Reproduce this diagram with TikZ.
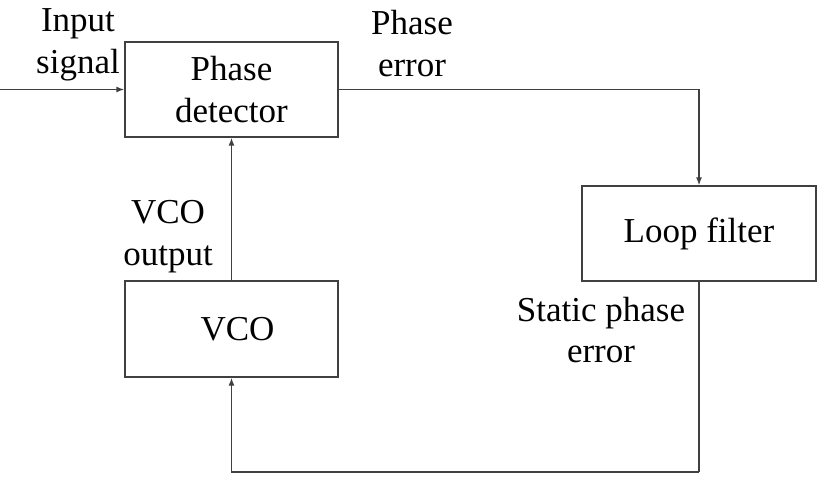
\documentclass[tikz,border=0pt]{standalone}
\usepackage{fontspec}
\setmainfont{Liberation Serif}
\usetikzlibrary{arrows.meta}
\begin{document}
\begin{tikzpicture}[x=1pt,y=-1pt,
  blk/.style={draw=black!75, line width=1.3pt, minimum width=213pt, minimum height=95pt, inner sep=0pt, font=\fontsize{35}{41.5}\selectfont, align=center},
  lbl/.style={font=\fontsize{35}{41.5}\selectfont, align=center, inner sep=0pt, text=black},
  conn/.style={draw=black!75, line width=1.3pt, -{Latex[length=8pt,width=6pt]}},
  wire/.style={draw=black!75, line width=1.3pt}]
\useasboundingbox (0,0) rectangle (824,481);
\node[blk] (pd) at (231.5,89.5) {Phase\\detector};
\node[blk, minimum width=234pt] (lf) at (699,233.5) {\raisebox{-2pt}{Loop filter}};
\node[blk, minimum height=96pt] (vco) at (231.5,329) {\hspace*{12pt}VCO};
\coordinate (in) at (0,89.5);
\coordinate (c) at (699,472);
\draw[conn] (in) -- (pd.west);
\draw[conn] (pd.east) -| (lf.north);
\draw[wire] (lf.south) -- (c);
\draw[conn] (c) -| (vco.south);
\draw[conn] (vco.north) -- (pd.south);
\node[lbl] (l1) at (78,45) {Input\\signal};
\node[lbl] (l2) at (412,43.5) {Phase\\error};
\node[lbl] (l3) at (168,236.5) {VCO\\output};
\node[lbl] (l4) at (601,330) {Static phase\\error};
\end{tikzpicture}
\end{document}
